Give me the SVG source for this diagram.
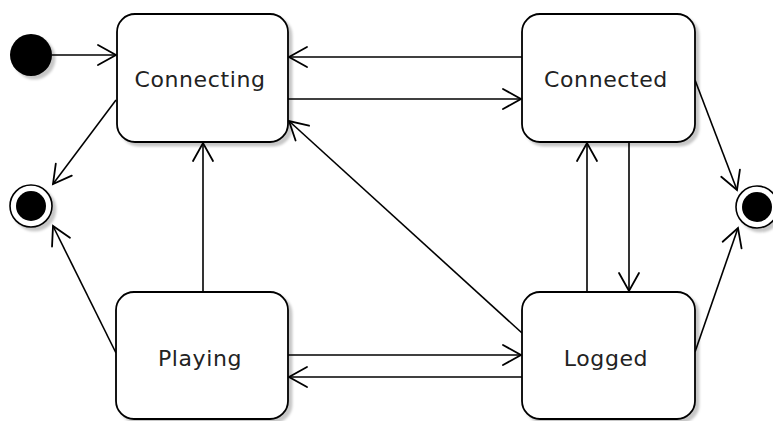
<svg xmlns="http://www.w3.org/2000/svg" width="773" height="421" viewBox="0 0 773 421">
  <defs>
    <filter id="shadow" x="-20%" y="-20%" width="140%" height="140%">
      <feDropShadow dx="3.5" dy="3.5" stdDeviation="1" flood-color="#000" flood-opacity="0.22"/>
    </filter>
    <marker id="open" markerUnits="userSpaceOnUse" markerWidth="24" markerHeight="24" viewBox="-20 -12 24 24" refX="0" refY="0" orient="auto">
      <path d="M-18,-10 L0,0 L-18,10" fill="none" stroke="#000" stroke-width="1.8" stroke-linejoin="miter" stroke-linecap="round"/>
    </marker>
  </defs>
  <style>
    .state { fill: #fff; stroke: #000; stroke-width: 1.8; }
    .label { font-family: "DejaVu Sans", sans-serif; font-size: 22px; letter-spacing: 0.6px; fill: #222; text-anchor: middle; }
    .edge { fill: none; stroke: #000; stroke-width: 1.6; marker-end: url(#open); }
  </style>
  <rect width="773" height="421" fill="#fff"/>

  <!-- connectors -->
  <g id="connectors">
    <line class="edge" x1="52" y1="55" x2="116" y2="55"/>
    <line class="edge" x1="522" y1="57" x2="289" y2="57"/>
    <line class="edge" x1="288" y1="99" x2="521" y2="99"/>
    <line class="edge" x1="116" y1="100" x2="53" y2="184"/>
    <line class="edge" x1="116" y1="353" x2="53" y2="226"/>
    <line class="edge" x1="203" y1="292" x2="203" y2="143"/>
    <line class="edge" x1="522" y1="333" x2="289" y2="121"/>
    <line class="edge" x1="288" y1="355" x2="521" y2="355"/>
    <line class="edge" x1="522" y1="377" x2="289" y2="377"/>
    <line class="edge" x1="587" y1="292" x2="587" y2="143"/>
    <line class="edge" x1="629" y1="142" x2="629" y2="291"/>
    <line class="edge" x1="695" y1="80" x2="737" y2="190"/>
    <line class="edge" x1="695" y1="352" x2="738" y2="228"/>
  </g>

  <!-- initial pseudo-state -->
  <g id="initial" filter="url(#shadow)">
    <circle cx="31" cy="55" r="21" fill="#000"/>
  </g>

  <!-- final pseudo-states -->
  <g id="final-left" filter="url(#shadow)">
    <circle cx="31" cy="206" r="21" fill="#fff" stroke="#000" stroke-width="1.6"/>
    <circle cx="31" cy="206" r="15" fill="#000"/>
  </g>
  <g id="final-right" filter="url(#shadow)">
    <circle cx="757" cy="207" r="21" fill="#fff" stroke="#000" stroke-width="1.6"/>
    <circle cx="757" cy="207" r="15" fill="#000"/>
  </g>

  <!-- states -->
  <g id="connecting">
    <rect class="state" x="117" y="14" width="171" height="128" rx="18" filter="url(#shadow)"/>
    <text class="label" x="200" y="87">Connecting</text>
  </g>
  <g id="connected">
    <rect class="state" x="522" y="14" width="173" height="128" rx="18" filter="url(#shadow)"/>
    <text class="label" x="606" y="87">Connected</text>
  </g>
  <g id="playing">
    <rect class="state" x="116" y="292" width="172" height="127" rx="18" filter="url(#shadow)"/>
    <text class="label" x="200" y="366">Playing</text>
  </g>
  <g id="logged">
    <rect class="state" x="522" y="292" width="173" height="127" rx="18" filter="url(#shadow)"/>
    <text class="label" x="606" y="366">Logged</text>
  </g>
</svg>
